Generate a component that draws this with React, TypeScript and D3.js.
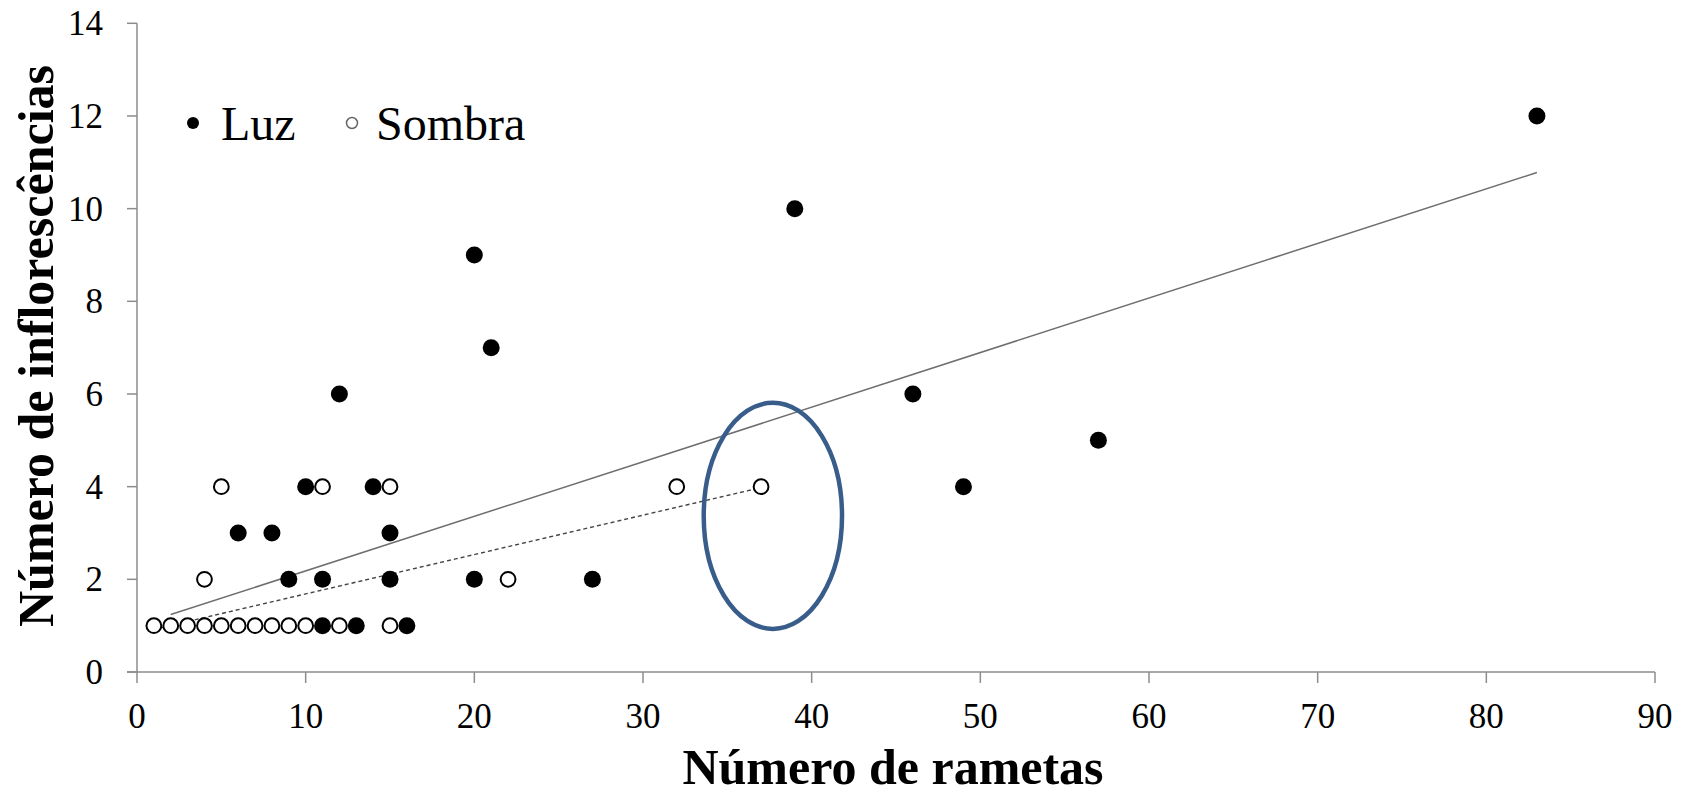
import React from "react";
import * as d3 from "d3";

// Número de rametas (x) vs Número de inflorescências (y)
const luzX = [11, 13, 16, 9, 11, 15, 20, 27, 6, 8, 15, 10, 14, 49, 57, 12, 46, 21, 20, 39, 83];
const luzY = [1, 1, 1, 2, 2, 2, 2, 2, 3, 3, 3, 4, 4, 4, 5, 6, 6, 7, 9, 10, 12];

const sombraX = [1, 2, 3, 4, 5, 6, 7, 8, 9, 10, 12, 15, 4, 22, 5, 11, 15, 32, 37];
const sombraY = [1, 1, 1, 1, 1, 1, 1, 1, 1, 1, 1, 1, 2, 2, 4, 4, 4, 4, 4];

// trend lines
const luzTrend = [
  { x: 2, y: 1.24 },
  { x: 83, y: 10.78 },
];
const sombraTrend = [
  { x: 1, y: 0.92 },
  { x: 37, y: 3.98 },
];

// the hand-drawn ellipse around the last sombra point
const highlight = { cx: 37.7, cy: 3.37, rx: 4.1, ry: 2.44 };

const xTicks = [0, 10, 20, 30, 40, 50, 60, 70, 80, 90];
const yTicks = [0, 2, 4, 6, 8, 10, 12, 14];

const font = "'Liberation Serif', 'Times New Roman', serif";

export default function App() {
  const width = 1687;
  const height = 795;

  const x = d3.scaleLinear([0, 90], [137, 1655]);
  const y = d3.scaleLinear([0, 14], [672, 23.3]);

  const line = d3
    .line<{ x: number; y: number }>()
    .x((d) => x(d.x))
    .y((d) => y(d.y));

  const luz = luzX.map((v, i) => ({ x: v, y: luzY[i] }));
  const sombra = sombraX.map((v, i) => ({ x: v, y: sombraY[i] }));

  const axisColor = "#8c8c8c";

  return (
    <svg
      width={width}
      height={height}
      viewBox={`0 0 ${width} ${height}`}
      style={{ position: "absolute", left: 0, top: 0, background: "#fff" }}
    >
      {/* y axis */}
      <line x1={x(0)} x2={x(0)} y1={y(14)} y2={y(0)} stroke={axisColor} strokeWidth={1.5} />
      {yTicks.map((t) => (
        <g key={"y" + t}>
          <line x1={x(0) - 10} x2={x(0)} y1={y(t)} y2={y(t)} stroke={axisColor} strokeWidth={1.5} />
          <text
            x={103}
            y={y(t) + 12}
            textAnchor="end"
            fontFamily={font}
            fontSize={35}
            fill="#000"
          >
            {t}
          </text>
        </g>
      ))}

      {/* x axis */}
      <line x1={x(0) - 10} x2={x(90)} y1={y(0)} y2={y(0)} stroke={axisColor} strokeWidth={1.5} />
      {xTicks.map((t) => (
        <g key={"x" + t}>
          <line x1={x(t)} x2={x(t)} y1={y(0)} y2={y(0) + 11} stroke={axisColor} strokeWidth={1.5} />
          <text
            x={x(t)}
            y={728}
            textAnchor="middle"
            fontFamily={font}
            fontSize={35}
            fill="#000"
          >
            {t}
          </text>
        </g>
      ))}

      {/* axis titles */}
      <text
        x={893}
        y={784}
        textAnchor="middle"
        fontFamily={font}
        fontWeight="bold"
        fontSize={50}
      >
        Número de rametas
      </text>
      <text
        transform={`translate(53,346) rotate(-90)`}
        textAnchor="middle"
        fontFamily={font}
        fontWeight="bold"
        fontSize={50}
      >
        Número de inflorescências
      </text>

      {/* trend lines */}
      <path d={line(luzTrend) ?? ""} fill="none" stroke="#6e6e6e" strokeWidth={1.5} />
      <path
        d={line(sombraTrend) ?? ""}
        fill="none"
        stroke="#444"
        strokeWidth={1.4}
        strokeDasharray="4,3"
      />

      {/* Luz points */}
      {luz.map((d, i) => (
        <circle key={"l" + i} cx={x(d.x)} cy={y(d.y)} r={8.5} fill="#000" />
      ))}

      {/* Sombra points */}
      {sombra.map((d, i) => (
        <circle
          key={"s" + i}
          cx={x(d.x)}
          cy={y(d.y)}
          r={7.4}
          fill="#fff"
          stroke="#000"
          strokeWidth={2}
        />
      ))}

      {/* highlight ellipse */}
      <ellipse
        cx={x(highlight.cx)}
        cy={y(highlight.cy)}
        rx={x(highlight.cx + highlight.rx) - x(highlight.cx)}
        ry={y(highlight.cy) - y(highlight.cy + highlight.ry)}
        fill="none"
        stroke="#385d8a"
        strokeWidth={4.5}
      />

      {/* legend */}
      <circle cx={193} cy={123} r={6} fill="#000" />
      <text x={221} y={140} fontFamily={font} fontSize={48}>
        Luz
      </text>
      <circle cx={352} cy={123} r={5.5} fill="#fff" stroke="#666" strokeWidth={1.5} />
      <text x={376} y={140} fontFamily={font} fontSize={48}>
        Sombra
      </text>
    </svg>
  );
}
